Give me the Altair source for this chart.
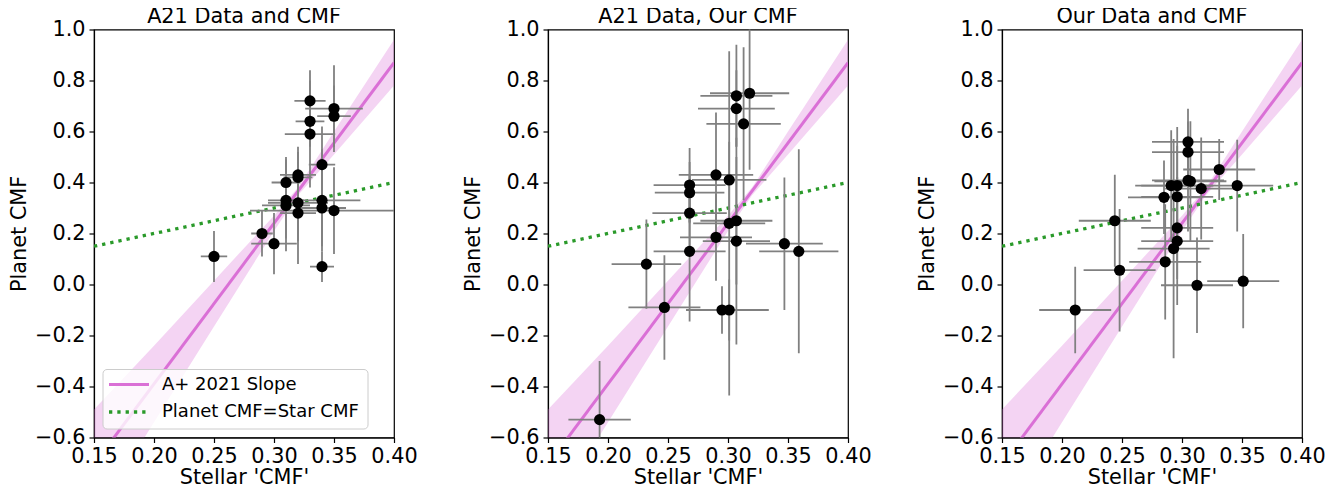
import altair as alt
import pandas as pd

# ---------------- data ----------------
titles = ["A21 Data and CMF", "A21 Data, Our CMF", "Our Data and CMF"]

# Panel 1: A21 data and CMF
p1_x    = [0.250, 0.290, 0.300, 0.310, 0.310, 0.310, 0.320, 0.320, 0.320, 0.320,
           0.330, 0.330, 0.330, 0.340, 0.340, 0.340, 0.340, 0.350, 0.350, 0.350]
p1_y    = [0.11, 0.20, 0.16, 0.40, 0.33, 0.31, 0.43, 0.42, 0.32, 0.28,
           0.72, 0.64, 0.59, 0.47, 0.33, 0.30, 0.07, 0.69, 0.66, 0.29]
p1_xerr = [0.011, 0.009, 0.019, 0.012, 0.015, 0.020, 0.015, 0.012, 0.025, 0.015,
           0.013, 0.012, 0.021, 0.011, 0.032, 0.020, 0.010, 0.024, 0.014, 0.070]
p1_yerr = [0.10, 0.09, 0.12, 0.10, 0.15, 0.18, 0.11, 0.10, 0.15, 0.20,
           0.12, 0.10, 0.21, 0.15, 0.20, 0.15, 0.06, 0.17, 0.12, 0.17]

# Panel 2: A21 data, our CMF
p2_x    = [0.193, 0.232, 0.247, 0.268, 0.268, 0.268, 0.268, 0.290, 0.290, 0.301,
           0.301, 0.307, 0.307, 0.307, 0.307, 0.313, 0.318, 0.295, 0.301, 0.347, 0.359]
p2_y    = [-0.53, 0.08, -0.09, 0.39, 0.36, 0.28, 0.13, 0.43, 0.185, 0.41,
           0.24, 0.25, 0.17, 0.74, 0.69, 0.63, 0.75, -0.10, -0.10, 0.16, 0.13]
p2_xerr = [0.026, 0.029, 0.030, 0.030, 0.029, 0.031, 0.030, 0.031, 0.030, 0.031,
           0.030, 0.030, 0.028, 0.030, 0.032, 0.031, 0.033, 0.030, 0.033, 0.032, 0.033]
p2_yerr = [0.23, 0.175, 0.205, 0.145, 0.12, 0.15, 0.275, 0.245, 0.17, 0.15,
           0.675, 0.25, 0.405, 0.20, 0.15, 0.30, 0.30, 0.093, 0.12, 0.26, 0.40]

# Panel 3: our data and CMF
p3_x    = [0.211, 0.244, 0.248, 0.286, 0.285, 0.291, 0.293, 0.296, 0.296, 0.296,
           0.296, 0.305, 0.305, 0.305, 0.307, 0.316, 0.331, 0.346, 0.3125, 0.351]
p3_y    = [-0.10, 0.25, 0.056, 0.089, 0.342, 0.388, 0.141, 0.388, 0.344, 0.222,
           0.17, 0.559, 0.519, 0.408, 0.405, 0.376, 0.451, 0.388, -0.003, 0.013]
p3_xerr = [0.030, 0.030, 0.030, 0.030, 0.030, 0.030, 0.030, 0.030, 0.030, 0.030,
           0.030, 0.030, 0.030, 0.030, 0.030, 0.030, 0.030, 0.030, 0.030, 0.030]
p3_yerr = [0.17, 0.18, 0.24, 0.226, 0.144, 0.217, 0.43, 0.23, 0.20, 0.20,
           0.25, 0.13, 0.12, 0.20, 0.235, 0.20, 0.12, 0.18, 0.187, 0.185]

# A+ 2021 slope line and its uncertainty band
slope_x  = [0.15, 0.40]
slope_y  = [-0.705, 0.87]
band_x   = [0.15, 0.20, 0.25, 0.30, 0.32, 0.35, 0.40]
band_lo  = [-0.92, -0.54, -0.165, 0.21, 0.35, 0.51, 0.78]
band_hi  = [-0.49, -0.24, 0.015, 0.27, 0.38, 0.60, 0.96]

# Planet CMF = Star CMF
equal_x = [0.15, 0.40]
equal_y = [0.15, 0.40]

x_ticks = [0.15, 0.20, 0.25, 0.30, 0.35, 0.40]
y_ticks = [-0.6, -0.4, -0.2, 0.0, 0.2, 0.4, 0.6, 0.8, 1.0]

legend_labels = ["A+ 2021 Slope", "Planet CMF=Star CMF"]

# ---------------- styling ----------------
FONT = "DejaVu Sans"
FS = 20.8
PINK = "#DA70D6"
GREEN = "#2a9a2a"
GRAY = "#808080"
W, H = 300, 408

xscale = alt.Scale(domain=[0.15, 0.40], nice=False, zero=False)
yscale = alt.Scale(domain=[-0.6, 1.0], nice=False, zero=False)

xaxis = alt.Axis(values=x_ticks, format=".2f", title="Stellar 'CMF'", grid=False,
                 tickSize=5, labelPadding=4, titlePadding=1, labelFlush=False,
                 labelOverlap=False, labelFontSize=FS, titleFontSize=FS,
                 titleFontWeight="normal")
yaxis = alt.Axis(values=y_ticks, format=".1f", title="Planet CMF", grid=False,
                 tickSize=5, labelPadding=4, titlePadding=5, labelFlush=False,
                 labelOverlap=False, labelFontSize=FS, titleFontSize=FS,
                 titleFontWeight="normal")

band_df = pd.DataFrame({"x": band_x, "lo": band_lo, "hi": band_hi})
slope_df = pd.DataFrame({"x": slope_x, "y": slope_y})
equal_df = pd.DataFrame({"x": equal_x, "y": equal_y})
one = pd.DataFrame({"k": [0]})


def panel(title, xs, ys, xe, ye, legend=False):
    df = pd.DataFrame({"x": xs, "y": ys, "xe": xe, "ye": ye})
    base = alt.Chart(df).transform_calculate(
        xlo="datum.x - datum.xe", xhi="datum.x + datum.xe",
        ylo="datum.y - datum.ye", yhi="datum.y + datum.ye")

    band = alt.Chart(band_df).mark_area(clip=True, color=PINK, opacity=0.3).encode(
        x=alt.X("x:Q", scale=xscale, axis=xaxis),
        y=alt.Y("lo:Q", scale=yscale, axis=yaxis),
        y2="hi:Q")
    slope = alt.Chart(slope_df).mark_line(clip=True, color=PINK, strokeWidth=3).encode(
        x=alt.X("x:Q", scale=xscale), y=alt.Y("y:Q", scale=yscale))
    equal = alt.Chart(equal_df).mark_line(clip=True, color=GREEN, strokeWidth=3.3,
                                          strokeDash=[3.3, 5]).encode(
        x=alt.X("x:Q", scale=xscale), y=alt.Y("y:Q", scale=yscale))
    xerr = base.mark_rule(clip=True, color=GRAY, strokeWidth=1.8).encode(
        x=alt.X("xlo:Q", scale=xscale), x2="xhi:Q", y=alt.Y("y:Q", scale=yscale))
    yerr = base.mark_rule(clip=True, color=GRAY, strokeWidth=1.8).encode(
        x=alt.X("x:Q", scale=xscale), y=alt.Y("ylo:Q", scale=yscale), y2="yhi:Q")
    pts = base.mark_circle(size=125, color="black", opacity=1).encode(
        x=alt.X("x:Q", scale=xscale), y=alt.Y("y:Q", scale=yscale))
    ttl = alt.Chart(one).mark_text(align="center", baseline="alphabetic", fontSize=FS,
                                   font=FONT, color="black").encode(
        x=alt.value(W / 2), y=alt.value(-6.6), text=alt.value(title))

    layers = [band, slope, equal, xerr, yerr, pts, ttl]

    if legend:
        box = alt.Chart(one).mark_rect(fill="white", fillOpacity=0.8, stroke="#cccccc",
                                       strokeWidth=1, cornerRadius=4).encode(
            x=alt.value(9), x2=alt.value(274), y=alt.value(340), y2=alt.value(399.5))
        s1 = alt.Chart(one).mark_rule(color=PINK, strokeWidth=3).encode(
            x=alt.value(15), x2=alt.value(55), y=alt.value(355))
        s2 = alt.Chart(one).mark_rule(color=GREEN, strokeWidth=3.3, strokeDash=[3.3, 5]).encode(
            x=alt.value(15), x2=alt.value(55), y=alt.value(382.5))
        t1 = alt.Chart(one).mark_text(align="left", baseline="middle", fontSize=18,
                                      font=FONT, color="black").encode(
            x=alt.value(68), y=alt.value(355), text=alt.value(legend_labels[0]))
        t2 = alt.Chart(one).mark_text(align="left", baseline="middle", fontSize=18,
                                      font=FONT, color="black").encode(
            x=alt.value(68), y=alt.value(382.5), text=alt.value(legend_labels[1]))
        layers += [box, s1, s2, t1, t2]

    return alt.layer(*layers).properties(width=W, height=H)


chart = alt.hconcat(
    panel(titles[0], p1_x, p1_y, p1_xerr, p1_yerr, legend=True),
    panel(titles[1], p2_x, p2_y, p2_xerr, p2_yerr),
    panel(titles[2], p3_x, p3_y, p3_xerr, p3_yerr),
    spacing=154, bounds="flush",
).properties(
    padding={"left": -1, "top": -3.5, "right": 5, "bottom": 0}
).configure(font=FONT).configure_view(
    stroke="black", strokeWidth=1.2
).configure_axis(
    domainColor="black", tickColor="black", labelColor="black", titleColor="black",
    labelFont=FONT, titleFont=FONT, domainWidth=1.2, tickWidth=1.2
)

chart.save("out.html", embed_options={"renderer": "svg", "actions": False})
